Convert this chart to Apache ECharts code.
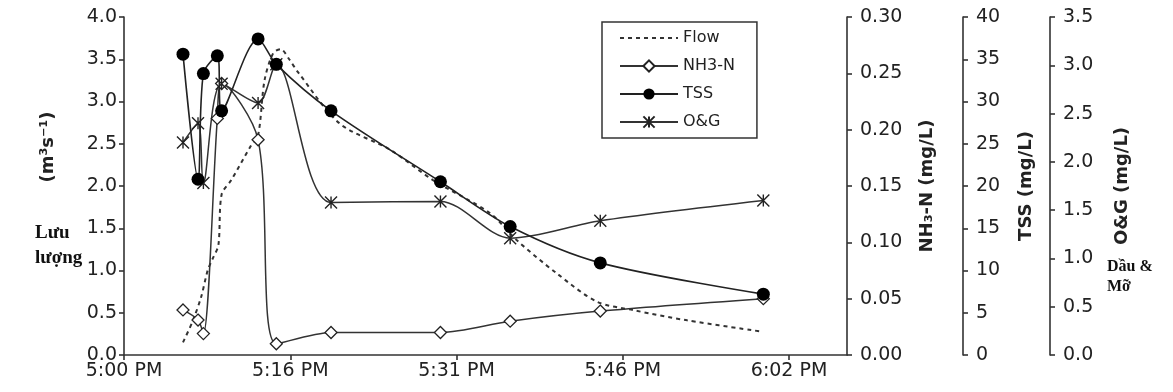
<!DOCTYPE html>
<html>
<head>
<meta charset="utf-8">
<script src="https://cdn.jsdelivr.net/npm/echarts@6/dist/echarts.min.js"></script>
<style>html,body{margin:0;padding:0;background:#fff}#c{width:1173px;height:392px}</style>
</head>
<body>
<div id="c"></div>
<script>
// minutes after 5:00 PM
const xTickLabels = ['5:00 PM', '5:16 PM', '5:31 PM', '5:46 PM', '6:02 PM'];
const sampleTimes = [5.5, 6.9, 7.4, 8.7, 9.1, 12.5, 14.2, 19.3, 29.5, 36.0, 44.4, 59.6];
const nh3Values = [0.040, 0.031, 0.019, 0.210, 0.241, 0.191, 0.010, 0.020, 0.020, 0.030, 0.039, 0.050];
const tssValues = [35.6, 20.8, 33.3, 35.4, 28.9, 37.4, 34.4, 28.9, 20.5, 15.2, 10.9, 7.2];
const ogValues = [2.20, 2.40, 1.78, null, 2.81, 2.61, 3.01, 1.58, 1.59, 1.21, 1.39, 1.60];
const flowTimes = [5.5, 6.4, 7.2, 7.8, 8.3, 8.8, 9.1, 10.0, 11.8, 12.5, 13.1, 13.9, 14.6, 15.4, 16.2, 20.1, 24.8, 28.8, 34.1, 36.6, 40.3, 44.1, 47.5, 52.5, 59.3];
const flowValues = [0.15, 0.40, 0.69, 1.00, 1.15, 1.30, 1.90, 2.07, 2.47, 2.60, 3.25, 3.57, 3.62, 3.50, 3.35, 2.74, 2.43, 2.07, 1.68, 1.36, 0.97, 0.63, 0.53, 0.41, 0.28];

const pair = (xs, ys) => xs.map((x, i) => [x, ys[i]]);
const FONT = 'DejaVu Sans';
const INK = '#222';
const XI = 15.5;

function yAxisBase(extra) {
  return Object.assign({
    type: 'value',
    axisLine: { show: true, lineStyle: { color: '#333', width: 1.6 } },
    axisTick: { show: true, length: 5, lineStyle: { color: '#333', width: 1.6 } },
    splitLine: { show: false },
    nameTextStyle: { color: INK, fontFamily: FONT, fontSize: 18, fontWeight: 'bold' }
  }, extra);
}

const chart = echarts.init(document.getElementById('c'));
chart.setOption({
  animation: false,
  backgroundColor: '#fff',
  grid: { left: 124, top: 17, right: 326, bottom: 37, containLabel: false },
  legend: {
    data: ['Flow', 'NH3-N', 'TSS', 'O&G'],
    orient: 'vertical', left: 602, top: 22,
    itemWidth: 58, itemHeight: 14, itemGap: 12,
    padding: [8, 22, 8, 17],
    borderColor: '#333', borderWidth: 1.5, backgroundColor: '#fff',
    textStyle: { color: INK, fontFamily: FONT, fontSize: 16 }
  },
  xAxis: {
    type: 'value', min: 0, max: 67.4, interval: XI,
    axisLine: { lineStyle: { color: '#333', width: 1.6 } },
    axisTick: { show: true, length: 5, lineStyle: { color: '#333', width: 1.6 } },
    splitLine: { show: false },
    axisLabel: {
      color: INK, fontFamily: FONT, fontSize: 19, margin: 7,
      showMaxLabel: false,
      formatter: v => {
        const i = Math.round(v / XI);
        return Math.abs(v - i * XI) < 0.01 && xTickLabels[i] ? xTickLabels[i] : '';
      }
    }
  },
  yAxis: [
    yAxisBase({ position: 'left', min: 0, max: 4, interval: 0.5,
      axisLabel: { color: INK, fontFamily: FONT, fontSize: 19, margin: 7, formatter: v => v.toFixed(1) } }),
    yAxisBase({ position: 'right', offset: 0, min: 0, max: 0.3, interval: 0.05,
      name: 'NH₃-N (mg/L)', nameLocation: 'middle', nameRotate: 90, nameGap: 71,
      axisLabel: { color: INK, fontFamily: FONT, fontSize: 19, margin: 13, formatter: v => v.toFixed(2) } }),
    yAxisBase({ position: 'right', offset: 116, min: 0, max: 40, interval: 5,
      name: 'TSS (mg/L)', nameLocation: 'middle', nameRotate: 90, nameGap: 54,
      axisLabel: { color: INK, fontFamily: FONT, fontSize: 19, margin: 13 } }),
    yAxisBase({ position: 'right', offset: 203, min: 0, max: 3.5, interval: 0.5,
      name: 'O&G (mg/L)', nameLocation: 'middle', nameRotate: 90, nameGap: 63,
      axisLabel: { color: INK, fontFamily: FONT, fontSize: 19, margin: 13, formatter: v => v.toFixed(1) } })
  ],
  graphic: [
    { type: 'text', x: 48, y: 147, rotation: Math.PI / 2,
      style: { text: '(m³s⁻¹)', fill: INK, font: 'bold 18px "DejaVu Sans"', align: 'center', verticalAlign: 'middle' } },
    { type: 'text', x: 35, y: 221,
      style: { text: 'Lưu\nlượng', fill: '#111', font: 'bold 19px "Liberation Serif"', lineHeight: 25, align: 'left', verticalAlign: 'top' } },
    { type: 'text', x: 1107, y: 257,
      style: { text: 'Dầu &\nMỡ', fill: '#111', font: 'bold 16px "Liberation Serif"', lineHeight: 20, align: 'left', verticalAlign: 'top' } }
  ],
  series: [
    { name: 'Flow', type: 'line', yAxisIndex: 0, data: pair(flowTimes, flowValues),
      smooth: 0.3, showSymbol: false, symbol: 'none',
      lineStyle: { color: '#333', width: 2, type: [4, 4] }, itemStyle: { color: '#333', opacity: 0 }, z: 2 },
    { name: 'NH3-N', type: 'line', yAxisIndex: 1, data: pair(sampleTimes, nh3Values),
      smooth: 0.3, symbol: 'diamond', symbolSize: 12,
      lineStyle: { color: '#333', width: 1.5 },
      itemStyle: { color: '#fff', borderColor: '#222', borderWidth: 1.3 }, z: 3 },
    { name: 'TSS', type: 'line', yAxisIndex: 2, data: pair(sampleTimes, tssValues),
      smooth: 0.3, symbol: 'circle', symbolSize: 13,
      lineStyle: { color: '#222', width: 1.6 },
      itemStyle: { color: '#000', borderColor: '#000', borderWidth: 0 }, z: 4 },
    { name: 'O&G', type: 'line', yAxisIndex: 3, data: pair(sampleTimes, ogValues),
      connectNulls: true, smooth: 0.3,
      symbol: 'path://M0 0L12 12M12 0L0 12M6 0L6 12', symbolSize: 12,
      lineStyle: { color: '#333', width: 1.5 },
      itemStyle: { color: '#222', borderColor: '#222', borderWidth: 1.4 }, z: 3 }
  ]
});
</script>
</body>
</html>
